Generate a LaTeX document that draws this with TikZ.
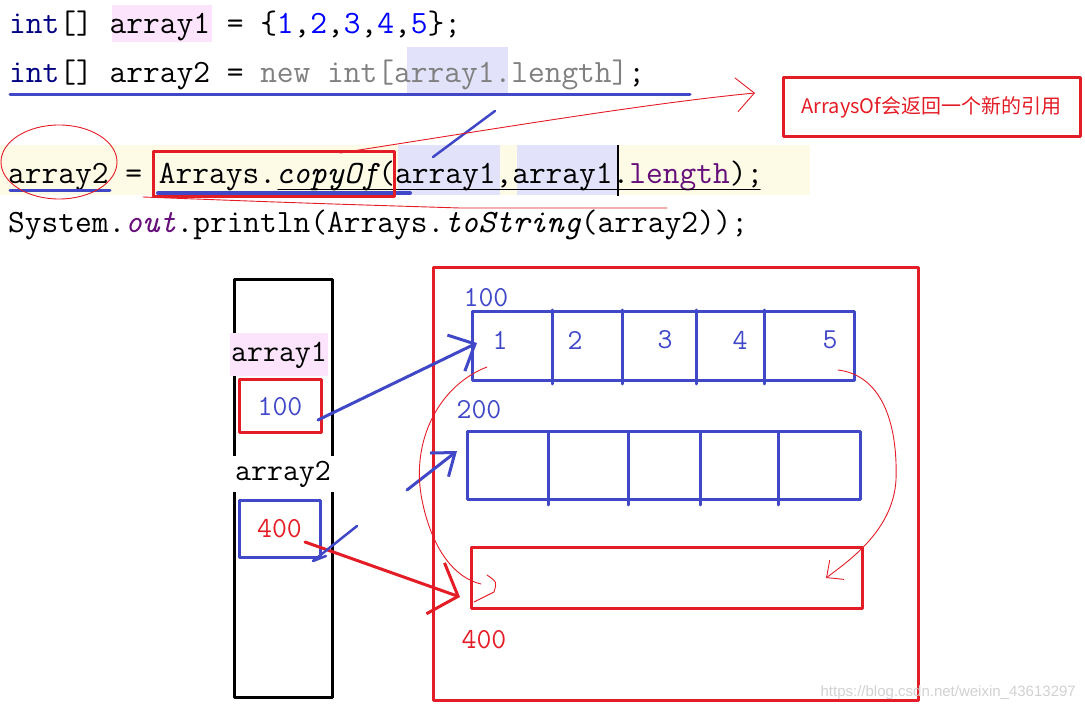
\documentclass[tikz,border=0pt]{standalone}
\usepackage{fontspec}
\newfontfamily\cjkfont{Noto Sans CJK SC}
\newfontfamily\markfont{Liberation Sans}
\usetikzlibrary{arrows.meta}
\definecolor{penred}{RGB}{228,28,38}
\definecolor{penblue}{RGB}{64,72,200}
\definecolor{kwnavy}{RGB}{0,0,128}
\definecolor{numblue}{RGB}{0,0,255}
\definecolor{dimgray}{RGB}{128,128,128}
\definecolor{fieldpurple}{RGB}{102,14,122}
\definecolor{hlpink}{RGB}{252,228,252}
\definecolor{hllav}{RGB}{226,226,250}
\definecolor{hlcream}{RGB}{253,250,230}
\newcommand{\codefont}{\ttfamily\fontsize{32.5}{36}\selectfont}
\newcommand{\memfont}{\ttfamily\fontsize{29}{32}\selectfont}
\newcommand{\num}[1]{{\color{numblue}#1}}

\begin{document}
\begin{tikzpicture}[x=1pt,y=-1pt,line join=round,line cap=round,
	code/.style={anchor=base west,inner sep=0pt,font=\codefont},
	mem/.style={inner sep=0pt,font=\memfont},
	pen/.style={line width=3pt},
	cell/.style={draw=penblue,line width=3pt},
	thinpen/.style={penred,line width=.9pt},
	barb/.style 2 args={-{Straight Barb[length=#1,width=#2]}}]
	\useasboundingbox (0,0) rectangle (1085,708);
	\fill[hlpink] (112,5) rectangle (212,42);
	\fill[hllav] (407,47) rectangle (508,93);
	\fill[hlcream] (0,145) rectangle (810,195);
	\fill[hllav] (398,145) rectangle (500,195);
	\fill[hllav] (517,145) rectangle (617,195);
	\node[code] (line1) at (9,34) {{\color{kwnavy}int}[] array1 = \{\num{1},\num{2},\num{3},\num{4},\num{5}\};};
	\node[code] (line2) at (9,83) {{\color{kwnavy}int}[] array2 = {\color{dimgray}new int[array1.length]};};
	\node[code] (line3) at (8,184) {array2 = Arrays.{\itshape copyOf}(array1,array1.{\color{fieldpurple}length});};
	\node[code] (line4) at (8,233) {System.{\color{fieldpurple}\itshape out}.println(Arrays.{\itshape toString}(array2));};
	\draw[penblue,line width=3pt] (10,95) -- (690,95);
	\draw[penblue,line width=3pt] (10,191) -- (110,191);
	\draw[penblue,line width=4pt] (158,193) -- (410,193);
	\draw[line width=1.5pt] (278,189.5) -- (760,189.5);
	\draw[line width=2.5pt,line cap=butt] (618,145) -- (618,196);
	\draw[penred,pen] (153,152) rectangle (394,197);
	\draw[penblue,line width=2.5pt] (433,157) -- (495,111);
	\draw[thinpen] (59,162) ellipse (58 and 37);
	\draw[thinpen] (143,197) .. controls (300,203) .. (460,208) -- (667,208);
	\coordinate (from) at (340,153);
	\coordinate (to) at (755,93);
	\draw[thinpen,barb={18pt}{34pt}] (from) .. controls (500,128) and (650,103) .. (to);
	\node[draw=penred,pen,minimum width=297pt,minimum height=59pt,text=penred,font=\cjkfont\fontsize{20}{24}\selectfont] (note) at (931.5,107.5) {ArraysOf会返回一个新的引用};

	\draw[pen] (234,280) rectangle (332,697);
	\node[mem,fill=hlpink,minimum width=98pt,minimum height=43pt,font=\ttfamily\fontsize{31}{34}\selectfont] (a1) at (279,355) {array1};
	\node[mem,fill=white,minimum width=106pt,minimum height=36pt,font=\ttfamily\fontsize{31}{34}\selectfont] (a2) at (283,474) {array2};
	\node[mem,draw=penred,pen,minimum width=82pt,minimum height=53pt,text=penblue] (ref1) at (280,406.5) {100};
	\node[mem,draw=penblue,pen,minimum width=81pt,minimum height=56pt,text=penred] (ref2) at (279.5,529) {400};

	\draw[penred,pen] (433,268) rectangle (918,700);
	\node[mem,text=penblue] (l100) at (486,298) {100};
	\node[cell,minimum width=382pt,minimum height=69pt] (arr1) at (663,346.5) {};
	\foreach \x in {552,622,696,764} \draw[cell] (\x,310) -- (\x,384);
	\foreach \n/\x in {1/500,2/575,3/665,4/740,5/830} \node[mem,text=penblue] (e\n) at (\x,340) {\n};
	\node[mem,text=penblue] (l200) at (479,410) {200};
	\node[cell,minimum width=393pt,minimum height=68pt] (arr2) at (663.5,466) {};
	\foreach \x in {548,628,700,778} \draw[cell] (\x,432) -- (\x,505);
	\node[draw=penred,pen,minimum width=391pt,minimum height=61pt] (arr3) at (666.5,577.5) {};
	\node[mem,text=penred] (l400) at (484,640) {400};

	\coordinate (s1) at (318,420);
	\coordinate (t1) at (477,343);
	\coordinate (s2) at (407,490);
	\coordinate (t2) at (457,451);
	\coordinate (s3) at (305,542);
	\coordinate (t3) at (460,597);
	\draw[penblue,pen,barb={21pt}{40pt}] (s1) -- (t1);
	\draw[penblue,pen,barb={20pt}{30pt}] (s2) -- (t2);
	\draw[penred,pen,barb={24pt}{54pt}] (s3) -- (t3);
	\draw[penblue,line width=2.5pt] (357,526) -- (313,561) -- (326,556);

	\draw[thinpen] (487,367) .. controls (440,385) and (410,440) .. (422,500) .. controls (432,550) and (455,578) .. (481,584);
	\draw[thinpen] (487,575) .. controls (497,582) .. (494,592) -- (474,602);
	\draw[thinpen,barb={13pt}{24pt}] (838,370) .. controls (880,375) and (898,420) .. (896,480) .. controls (893,530) and (850,560) .. (826,578);

	\node[font=\markfont\fontsize{15}{18}\selectfont,text=black!18,anchor=base east,inner sep=0pt] (mark) at (1076,696) {https://blog.csdn.net/weixin\_43613297};
\end{tikzpicture}
\end{document}
